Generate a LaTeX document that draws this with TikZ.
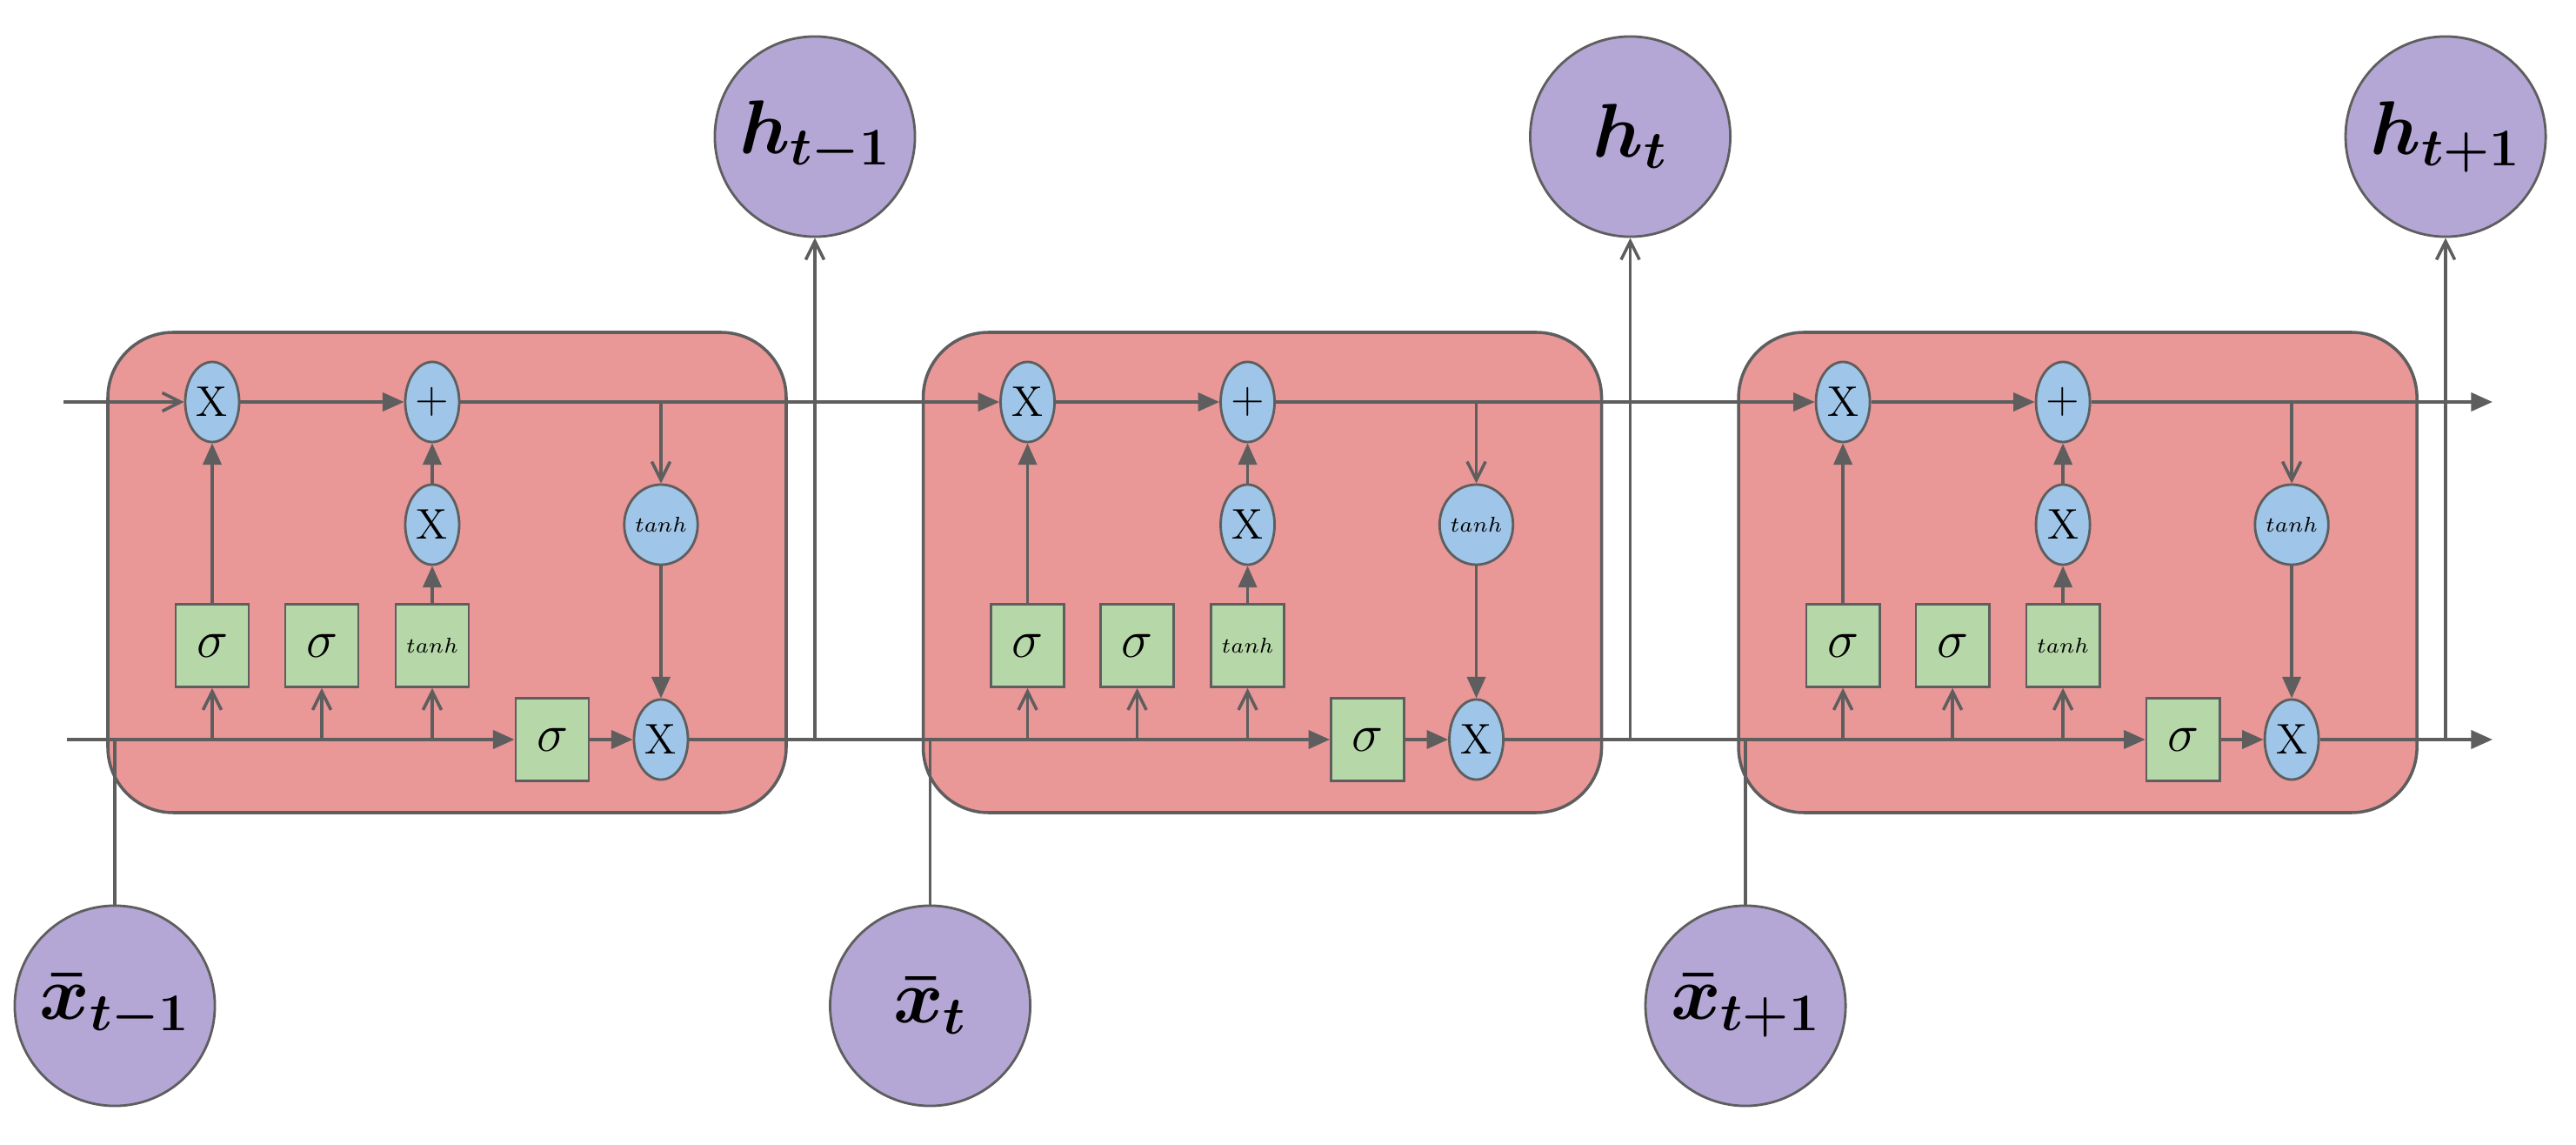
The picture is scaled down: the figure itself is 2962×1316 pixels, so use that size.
\documentclass[tikz,border=0pt]{standalone}
\usepackage{amsmath,bm}
\usetikzlibrary{arrows.meta,shapes.geometric}
\definecolor{ln}{HTML}{5E5E5E}
\definecolor{cellc}{HTML}{E99797}
\definecolor{bluec}{HTML}{9FC5E8}
\definecolor{greenc}{HTML}{B6D7A8}
\definecolor{purc}{HTML}{B4A7D6}
\begin{document}
\begin{tikzpicture}[x=0.01cm,y=-0.01cm,
  cell/.style={draw=ln,fill=cellc,rounded corners=0.75cm,line width=1pt},
  op/.style={ellipse,draw=ln,line width=0.8pt,fill=bluec,minimum width=0.62cm,minimum height=0.92cm,inner sep=0pt,font=\fontsize{14}{14}\selectfont},
  gate/.style={rectangle,draw=ln,line width=0.8pt,fill=greenc,minimum width=0.84cm,minimum height=0.95cm,inner sep=0pt,font=\fontsize{16}{16}\selectfont},
  io/.style={circle,draw=ln,line width=0.8pt,fill=purc,minimum size=2.3cm,inner sep=0pt,font=\fontsize{25}{25}\selectfont},
  con/.style={draw=ln,line width=1pt},
  fa/.style={con,-{Triangle[length=7pt,width=6pt]}},
  oa/.style={con,-{Straight Barb[length=6pt,width=6pt]}},
]
\useasboundingbox (0,0) rectangle (2962,1316);
\foreach \k in {0,1,2}{
  \begin{scope}[xshift=\k*9.37cm]
    \draw[cell] (124,382) rectangle (904,934);
  \end{scope}
}
\foreach \k/\hl/\xl in {0/{t-1}/{t-1},1/{t}/{t},2/{t+1}/{t+1}}{
  \begin{scope}[xshift=\k*9.37cm]
    \node[op] (mf\k) at (244,462) {X};
    \node[op] (pl\k) at (497,462) {$+$};
    \node[op] (mi\k) at (497,603) {X};
    \node[op,font=\fontsize{7}{7}\selectfont] (th\k) at (760,603) {$tanh$};
    \node[op] (mo\k) at (760,850) {X};
    \node[gate] (g1\k) at (244,742) {$\sigma$};
    \node[gate] (g2\k) at (370,742) {$\sigma$};
    \node[gate,font=\fontsize{7}{7}\selectfont] (g3\k) at (497,742) {$tanh$};
    \node[gate] (g4\k) at (635,850) {$\sigma$};
    \node[io] (h\k) at (937,157) {$\bm{h_{\hl}}$};
    \node[io] (x\k) at (132,1156) {$\bm{\bar{x}_{\xl}}$};
    \coordinate (b1\k) at (244,850);
    \coordinate (b2\k) at (370,850);
    \coordinate (b3\k) at (497,850);
    \coordinate (tb\k) at (760,462);
    \coordinate (hb\k) at (937,850);
    \coordinate (xb\k) at (132,850);
    \draw[fa] (mf\k) -- (pl\k);
    \draw[fa] (g1\k) -- (mf\k);
    \draw[fa] (g3\k) -- (mi\k);
    \draw[fa] (mi\k) -- (pl\k);
    \draw[con] (pl\k) -- (tb\k);
    \draw[oa] (tb\k) -- (th\k);
    \draw[fa] (th\k) -- (mo\k);
    \draw[fa] (g4\k) -- (mo\k);
    \draw[oa] (b1\k) -- (g1\k);
    \draw[oa] (b2\k) -- (g2\k);
    \draw[oa] (b3\k) -- (g3\k);
    \draw[con] (mo\k) -- (hb\k);
    \draw[oa] (hb\k) -- (h\k);
    \draw[con] (x\k) -- (xb\k);
  \end{scope}
}
\coordinate (ts) at (73,462);
\coordinate (bs) at (77,850);
\coordinate (te) at (2866,462);
\coordinate (be) at (2866,850);
\draw[oa] (ts) -- (mf0);
\draw[fa] (bs) -- (g40);
\draw[fa] (tb0) -- (mf1);
\draw[fa] (hb0) -- (g41);
\draw[fa] (tb1) -- (mf2);
\draw[fa] (hb1) -- (g42);
\draw[fa] (tb2) -- (te);
\draw[fa] (hb2) -- (be);
\end{tikzpicture}
\end{document}
